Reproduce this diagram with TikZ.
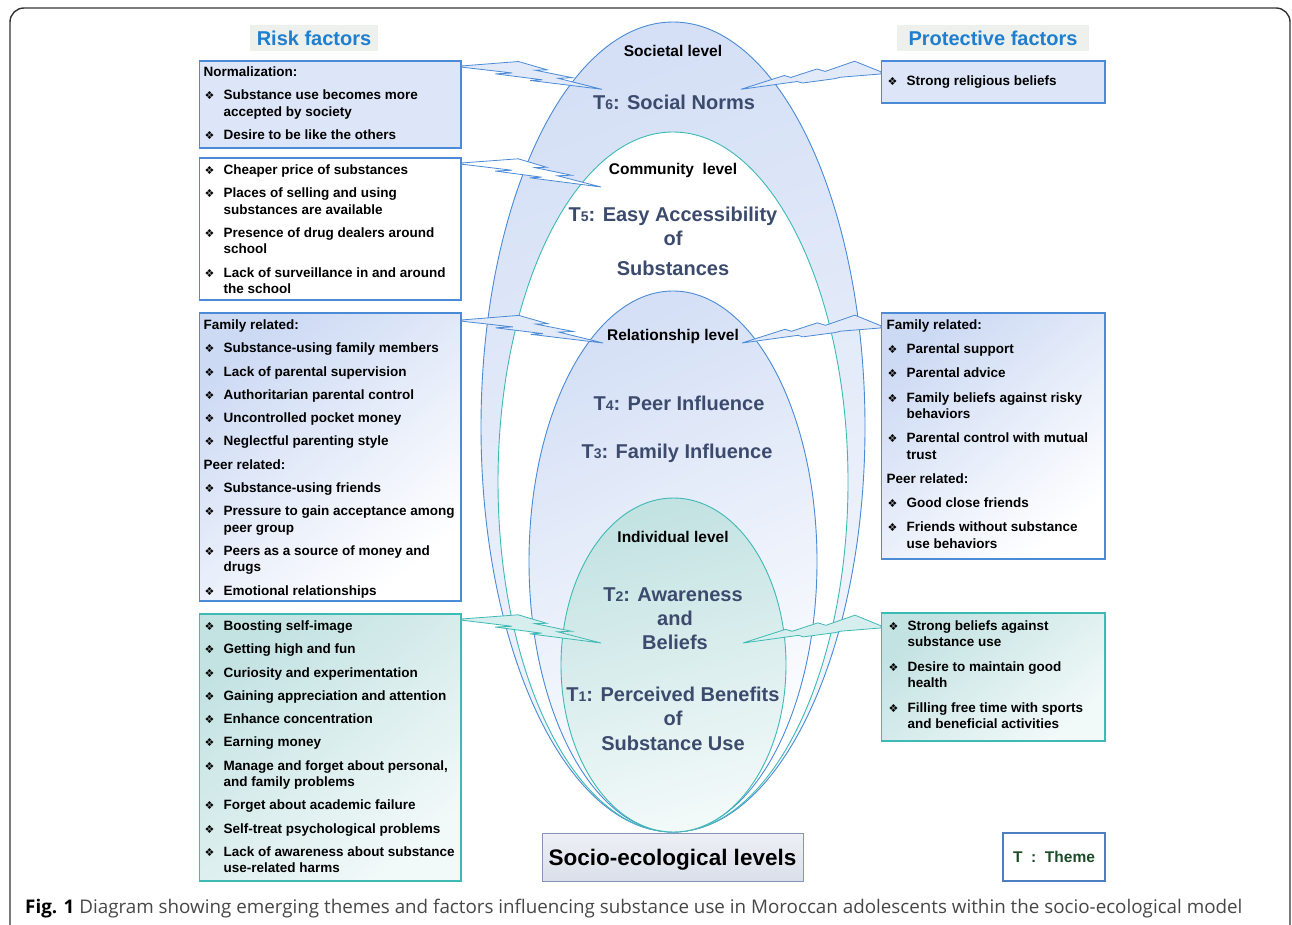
\documentclass[tikz,border=0pt]{standalone}
\usepackage{fontspec}
\setmainfont{Liberation Sans}
\newfontfamily\capfont{Open Sans}
\newfontfamily\symfont{DejaVu Sans}
\usetikzlibrary{calc}

\definecolor{lineblue}{HTML}{4A8AD6}
\definecolor{lineteal}{HTML}{3DBAB4}
\definecolor{fillblue}{HTML}{DCE6F8}
\definecolor{paleblue}{HTML}{CDDAF4}
\definecolor{paleteal}{HTML}{C3E2E2}
\definecolor{lowteal}{HTML}{F2F9F9}
\definecolor{outertop}{HTML}{D5E0F6}
\definecolor{outerlow}{HTML}{F4F7FC}
\definecolor{boltfill}{HTML}{E2EAF9}
\definecolor{tealfill}{HTML}{D6EEEE}
\definecolor{themeslate}{HTML}{3C4B6D}
\definecolor{headblue}{HTML}{1E7ED0}
\definecolor{headgray}{HTML}{EDF0EB}
\definecolor{themegreen}{HTML}{1D4B28}
\definecolor{themeline}{HTML}{4D7FC0}
\definecolor{socioline}{HTML}{8595B8}
\definecolor{sociotop}{HTML}{EEF0F5}
\definecolor{sociolow}{HTML}{DADFEA}
\definecolor{framegray}{HTML}{333333}
\definecolor{capgray}{HTML}{474747}

\newcommand{\bul}{{\symfont\fontsize{11}{11}\selectfont\char"2756}}
\newcommand{\itm}[1]{\par\hangindent=20pt\hangafter=1\noindent\makebox[20pt][l]{\hspace{1pt}\bul}#1}
\newcommand{\hdr}[1]{\par\noindent#1}
\newcommand{\factors}[2]{\parbox[t]{300pt}{\setlength{\parskip}{#1}#2}}
\newcommand{\thm}[1]{T{\fontsize{14}{14}\selectfont#1}}
\newcommand{\bp}[5]{($(#1)!#3!(#2)!#4!#5:(#2)$)}
\newcommand{\riskbolt}[3]{\draw[#1] \bp{#2}{#3}{0}{0.5pt}{90} -- \bp{#2}{#3}{0.389}{14pt}{90} -- \bp{#2}{#3}{0.598}{10.4pt}{90} -- \bp{#2}{#3}{0.516}{8.1pt}{90} -- \bp{#2}{#3}{0.78}{6.7pt}{90} -- \bp{#2}{#3}{0.684}{3.8pt}{90} -- (#3) -- \bp{#2}{#3}{0.492}{2.8pt}{270} -- \bp{#2}{#3}{0.575}{0.2pt}{270} -- \bp{#2}{#3}{0.243}{1.9pt}{270} -- \bp{#2}{#3}{0.36}{1.7pt}{90} -- \bp{#2}{#3}{0}{0.7pt}{270} -- cycle;}
\newcommand{\protbolt}[3]{\draw[#1] \bp{#2}{#3}{0}{0.7pt}{270} -- \bp{#2}{#3}{0.176}{14.3pt}{270} -- \bp{#2}{#3}{0.392}{7.7pt}{270} -- \bp{#2}{#3}{0.448}{11.1pt}{270} -- \bp{#2}{#3}{0.639}{5.8pt}{270} -- \bp{#2}{#3}{0.684}{8.5pt}{270} -- (#3) -- \bp{#2}{#3}{0.597}{1pt}{270} -- \bp{#2}{#3}{0.563}{1.1pt}{90} -- \bp{#2}{#3}{0.328}{0.65pt}{90} -- \bp{#2}{#3}{0.292}{0.1pt}{270} -- \bp{#2}{#3}{0}{1.5pt}{90} -- cycle;}

\begin{document}
\begin{tikzpicture}[x=1pt,y=-1pt,
	factorbox/.style={draw=lineblue,line width=1.1pt,inner sep=0pt},
	tealbox/.style={draw=lineteal,line width=1.1pt,inner sep=0pt},
	factortext/.style={anchor=north west,inner sep=0pt,font=\bfseries\fontsize{13.5}{16.4}\selectfont},
	levellabel/.style={anchor=base,inner sep=0pt,font=\bfseries\fontsize{15.5}{18}\selectfont},
	themelabel/.style={anchor=base,inner sep=0pt,text=themeslate,font=\bfseries\fontsize{20}{24}\selectfont},
	headbox/.style={fill=headgray,text=headblue,inner sep=0pt,font=\bfseries\fontsize{20}{24}\selectfont},
	boltblue/.style={draw=lineblue,fill=boltfill,line width=0.8pt},
	boltteal/.style={draw=lineteal,fill=tealfill,line width=0.8pt}]
	\useasboundingbox (0,0) rectangle (1292,925);
	\draw[framegray,line width=1.4pt,rounded corners=14pt] (10,925) -- (10,8) -- (1290,8) -- (1290,925);

	\draw[lineblue,line width=0.9pt,top color=outertop,bottom color=outerlow,shading angle=20] (673,427) ellipse [x radius=192pt,y radius=405pt];
	\draw[lineteal,line width=0.9pt,fill=white] (673,482) ellipse [x radius=175pt,y radius=350pt];
	\draw[lineblue,line width=0.9pt,top color=outertop,bottom color=white,shading angle=25] (673,561.5) ellipse [x radius=144pt,y radius=270.5pt];
	\draw[lineteal,line width=0.9pt,top color=paleteal,bottom color=lowteal,shading angle=15] (673.5,665) ellipse [x radius=112.5pt,y radius=167pt];

	\node[headbox,minimum width=128pt,minimum height=26pt] (risk) at (314,38.5) {Risk factors};
	\node[headbox,minimum width=192pt,minimum height=26pt] (prot) at (993,38.5) {Protective factors};

	\node[factorbox,fill=fillblue,minimum width=261.5pt,minimum height=87pt] (rn) at (330.25,104.5) {};
	\node[factorbox,fill=white,minimum width=261.5pt,minimum height=142pt] (ra) at (330.25,229) {};
	\node[factorbox,top color=paleblue,bottom color=white,shading angle=40,minimum width=261.5pt,minimum height=288pt] (rr) at (330.25,457) {};
	\node[tealbox,top color=paleteal,bottom color=lowteal,shading angle=40,minimum width=261.5pt,minimum height=267pt] (ri) at (330.25,747.5) {};
	\node[factorbox,fill=fillblue,minimum width=223.5pt,minimum height=42pt] (pn) at (993.25,82) {};
	\node[factorbox,top color=paleblue,bottom color=white,shading angle=40,minimum width=223.5pt,minimum height=246pt] (pr) at (993.25,436) {};
	\node[tealbox,top color=paleteal,bottom color=lowteal,shading angle=40,minimum width=223.5pt,minimum height=128pt] (pi) at (993.25,677) {};

	\node[factortext] (rnt) at ($(rn.north west)+(4.5,6)$) {\factors{6.9pt}{\hdr{Normalization:}
		\itm{Substance use becomes more\\accepted by society}
		\itm{Desire to be like the others}}};
	\node[factortext] (rat) at ($(ra.north west)+(4.5,7)$) {\factors{6.9pt}{\itm{Cheaper price of substances}
		\itm{Places of selling and using\\substances are available}
		\itm{Presence of drug dealers around\\school}
		\itm{Lack of surveillance in and around\\the school}}};
	\node[factortext] (rrt) at ($(rr.north west)+(4.5,7)$) {\factors{6.9pt}{\hdr{Family related:}
		\itm{Substance-using family members}
		\itm{Lack of parental supervision}
		\itm{Authoritarian parental control}
		\itm{Uncontrolled pocket money}
		\itm{Neglectful parenting style}
		\hdr{Peer related:}
		\itm{Substance-using friends}
		\itm{Pressure to gain acceptance among\\peer group}
		\itm{Peers as a source of money and\\drugs}
		\itm{Emotional relationships}}};
	\node[factortext] (rit) at ($(ri.north west)+(4.5,7)$) {\factors{6.9pt}{\itm{Boosting self-image}
		\itm{Getting high and fun}
		\itm{Curiosity and experimentation}
		\itm{Gaining appreciation and attention}
		\itm{Enhance concentration}
		\itm{Earning money}
		\itm{Manage and forget about personal,\\and family problems}
		\itm{Forget about academic failure}
		\itm{Self-treat psychological problems}
		\itm{Lack of awareness about substance\\use-related harms}}};
	\node[factortext] (pnt) at ($(pn.north west)+(5.5,15)$) {\factors{8pt}{\itm{Strong religious beliefs}}};
	\node[factortext] (prt) at ($(pr.north west)+(5.5,7)$) {\factors{7.8pt}{\hdr{Family related:}
		\itm{Parental support}
		\itm{Parental advice}
		\itm{Family beliefs against risky\\behaviors}
		\itm{Parental control with mutual\\trust}
		\hdr{Peer related:}
		\itm{Good close friends}
		\itm{Friends without substance\\use behaviors}}};
	\node[factortext] (pit) at ($(pi.north west)+(6.5,8)$) {\factors{8.2pt}{\itm{Strong beliefs against\\substance use}
		\itm{Desire to maintain good\\health}
		\itm{Filling free time with sports\\and beneficial activities}}};

	\node[levellabel] (soc) at (673,56.5) {Societal level};
	\node[themelabel] (t6) at (674,110) {\thm{6}: Social Norms};
	\node[levellabel] (com) at (673,174.5) {Community\ \ level};
	\node[themelabel] (t5a) at (673,222) {\thm{5}: Easy Accessibility};
	\node[themelabel] (t5b) at (673,246) {of};
	\node[themelabel] (t5c) at (673,276) {Substances};
	\node[levellabel] (rel) at (673,340.5) {Relationship level};
	\node[themelabel] (t4) at (679,410) {\thm{4}: Peer Influence};
	\node[themelabel] (t3) at (677,458) {\thm{3}: Family Influence};
	\node[levellabel] (ind) at (673,542.5) {Individual level};
	\node[themelabel] (t2a) at (673,601) {\thm{2}: Awareness};
	\node[themelabel] (t2b) at (675,625) {and};
	\node[themelabel] (t2c) at (675,649) {Beliefs};
	\node[themelabel] (t1a) at (673,701) {\thm{1}: Perceived Benefits};
	\node[themelabel] (t1b) at (673,725) {of};
	\node[themelabel] (t1c) at (673,750) {Substance Use};

	\coordinate (rn1) at ($(rn.north east)+(0,6)$);
	\coordinate (ra1) at ($(ra.north east)+(0,6)$);
	\coordinate (rr1) at ($(rr.north east)+(0,8)$);
	\coordinate (ri1) at ($(ri.north east)+(0,6)$);
	\coordinate (pn1) at ($(pn.north west)+(0,12)$);
	\coordinate (pr1) at ($(pr.north west)+(0,14)$);
	\coordinate (pi1) at ($(pi.north west)+(0,14)$);
	\coordinate (soctip) at (602,89.3);
	\coordinate (comtip) at (601,187);
	\coordinate (reltip) at (603,343);
	\coordinate (indtip) at (601,643);
	\coordinate (socend) at (741,89.3);
	\coordinate (relend) at (742,343);
	\coordinate (indend) at (743,643);
	\riskbolt{boltblue}{rn1}{soctip}
	\riskbolt{boltblue,fill=white}{ra1}{comtip}
	\riskbolt{boltblue}{rr1}{reltip}
	\riskbolt{boltteal}{ri1}{indtip}
	\protbolt{boltblue}{pn1}{socend}
	\protbolt{boltblue}{pr1}{relend}
	\protbolt{boltteal}{pi1}{indend}

	\node[draw=socioline,line width=1pt,top color=sociotop,bottom color=sociolow,minimum width=261pt,minimum height=48pt,inner sep=0pt,text depth=0pt,font=\bfseries\fontsize{22.5}{26}\selectfont] (sel) at (672.5,857) {Socio-ecological levels};
	\node[draw=themeline,line width=1.1pt,fill=white,minimum width=102pt,minimum height=48pt,inner sep=0pt,text=themegreen,font=\bfseries\fontsize{15.5}{18}\selectfont] (key) at (1054,857) {T\ \ :\ \ Theme};

	\node[anchor=base west,inner sep=0pt,text=capgray,font=\capfont\fontsize{18.8}{22}\selectfont] (cap) at (25,913.5) {{\color{black}\textbf{Fig. 1}} Diagram showing emerging themes and factors influencing substance use in Moroccan adolescents within the socio-ecological model};
\end{tikzpicture}
\end{document}
